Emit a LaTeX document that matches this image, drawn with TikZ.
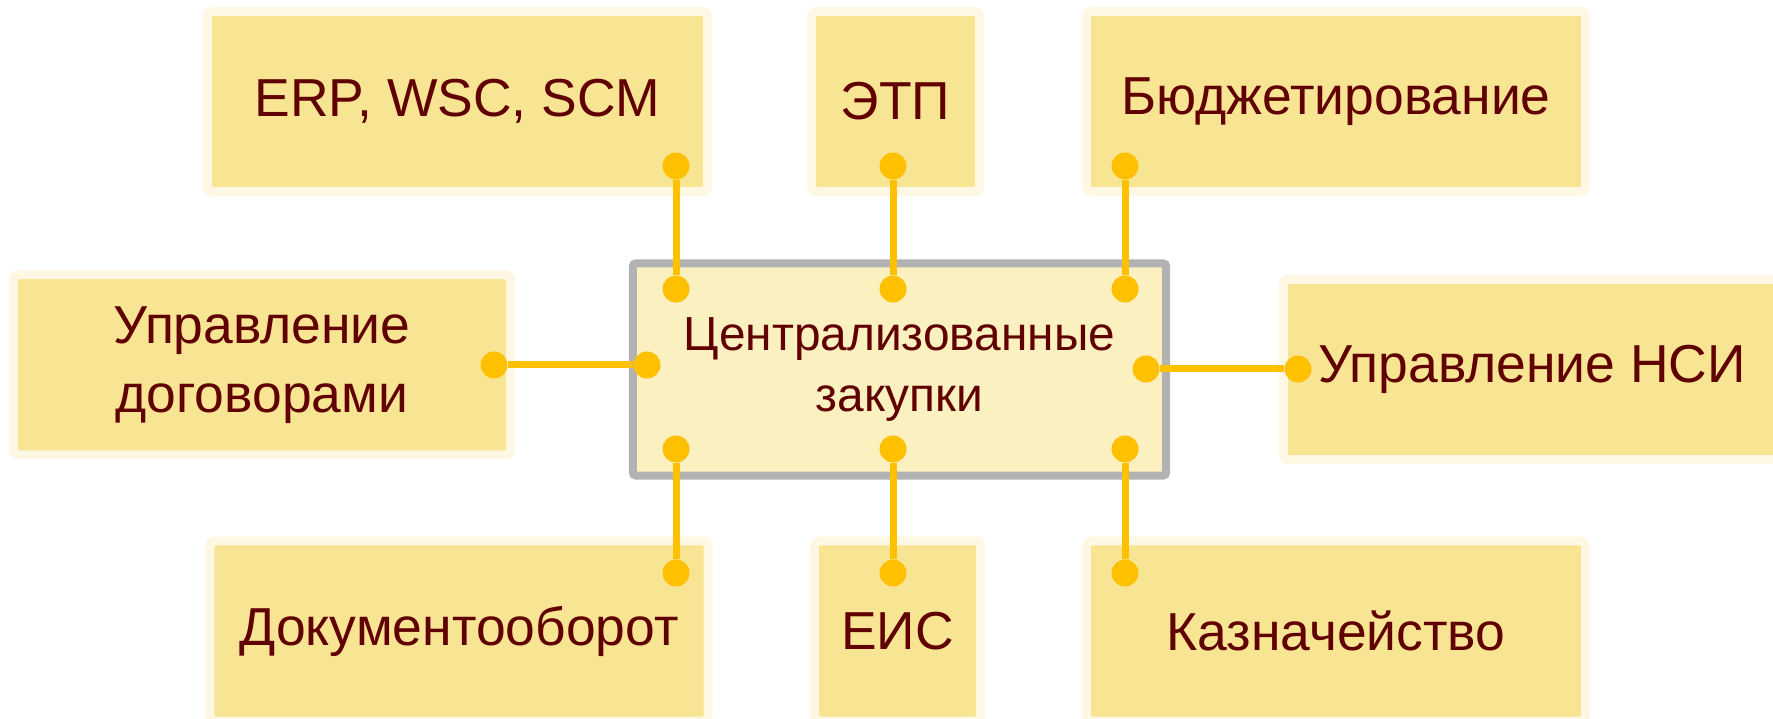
\documentclass[tikz,border=0pt]{standalone}
\usepackage{fontspec}
\setmainfont{Liberation Sans}
\definecolor{boxfill}{RGB}{248,229,148}
\definecolor{boxrim}{RGB}{254,247,228}
\definecolor{hubfill}{RGB}{251,240,192}
\definecolor{hubrim}{RGB}{178,178,178}
\definecolor{linkgold}{RGB}{255,192,0}
\definecolor{textred}{RGB}{96,0,0}

\begin{document}
\begin{tikzpicture}[x=0.01cm,y=-0.01cm, % <- 1 unit = 1 px, y downwards
   box/.style={draw=boxrim,fill=boxfill,line width=0.09cm,rounded corners=0.05cm,
      minimum height=1.8cm,inner sep=0pt,align=center,text=textred,
      font=\fontsize{15.2}{19.6}\selectfont},
   hub/.style={draw=hubrim,fill=hubfill,line width=0.08cm,rounded corners=0.03cm,
      minimum width=5.33cm,minimum height=2.12cm,inner sep=0pt,align=center,
      text=textred,font=\fontsize{13.6}{17.6}\selectfont},
   dot/.style={circle,fill=linkgold,inner sep=0pt,minimum size=0.27cm},
   link/.style={linkgold,line width=0.07cm}]
   % Picture frame
   \useasboundingbox (0,0) rectangle (1773,719);
   % Central system
   \node[hub] (hub) at (899.5,369.5) {Централизованные\\закупки};
   % Top row
   \node[box,minimum width=5.0cm]  (erp)    at (457.5,101.5) {ERP, WSC, SCM};
   \node[box,minimum width=1.68cm] (etp)    at (895.5,101.5) {ЭТП};
   \node[box,minimum width=4.99cm] (budget) at (1336,101.5)  {Бюджетирование};
   % Middle row
   \node[box,minimum width=4.97cm] (contracts) at (262,364.8) {Управление\\договорами};
   \node[box,minimum width=4.97cm] (nsi)       at (1532,369.5) {Управление НСИ};
   % Bottom row
   \node[box,minimum width=4.98cm] (docflow)  at (459,631)  {Документооборот};
   \node[box,minimum width=1.66cm] (eis)      at (897.5,631) {ЕИС};
   \node[box,minimum width=4.99cm] (treasury) at (1336,631)  {Казначейство};
   % Connector ends
   \node[dot] (erp-dot)       at (676,166) {};
   \node[dot] (etp-dot)       at (893,166) {};
   \node[dot] (budget-dot)    at (1125,166) {};
   \node[dot] (hub-erp)       at (676,289) {};
   \node[dot] (hub-etp)       at (893,289) {};
   \node[dot] (hub-budget)    at (1125,289) {};
   \node[dot] (contracts-dot) at (494,365) {};
   \node[dot] (hub-contracts) at (647,365) {};
   \node[dot] (hub-nsi)       at (1146,369) {};
   \node[dot] (nsi-dot)       at (1298,369) {};
   \node[dot] (hub-docflow)   at (676,449) {};
   \node[dot] (hub-eis)       at (893,449) {};
   \node[dot] (hub-treasury)  at (1125,449) {};
   \node[dot] (docflow-dot)   at (676,573) {};
   \node[dot] (eis-dot)       at (893,573) {};
   \node[dot] (treasury-dot)  at (1125,573) {};
   % Connectors
   \draw[link] (erp-dot) -- (hub-erp);
   \draw[link] (etp-dot) -- (hub-etp);
   \draw[link] (budget-dot) -- (hub-budget);
   \draw[link] (contracts-dot) -- (hub-contracts);
   \draw[link] (hub-nsi) -- (nsi-dot);
   \draw[link] (hub-docflow) -- (docflow-dot);
   \draw[link] (hub-eis) -- (eis-dot);
   \draw[link] (hub-treasury) -- (treasury-dot);
\end{tikzpicture}
\end{document}
